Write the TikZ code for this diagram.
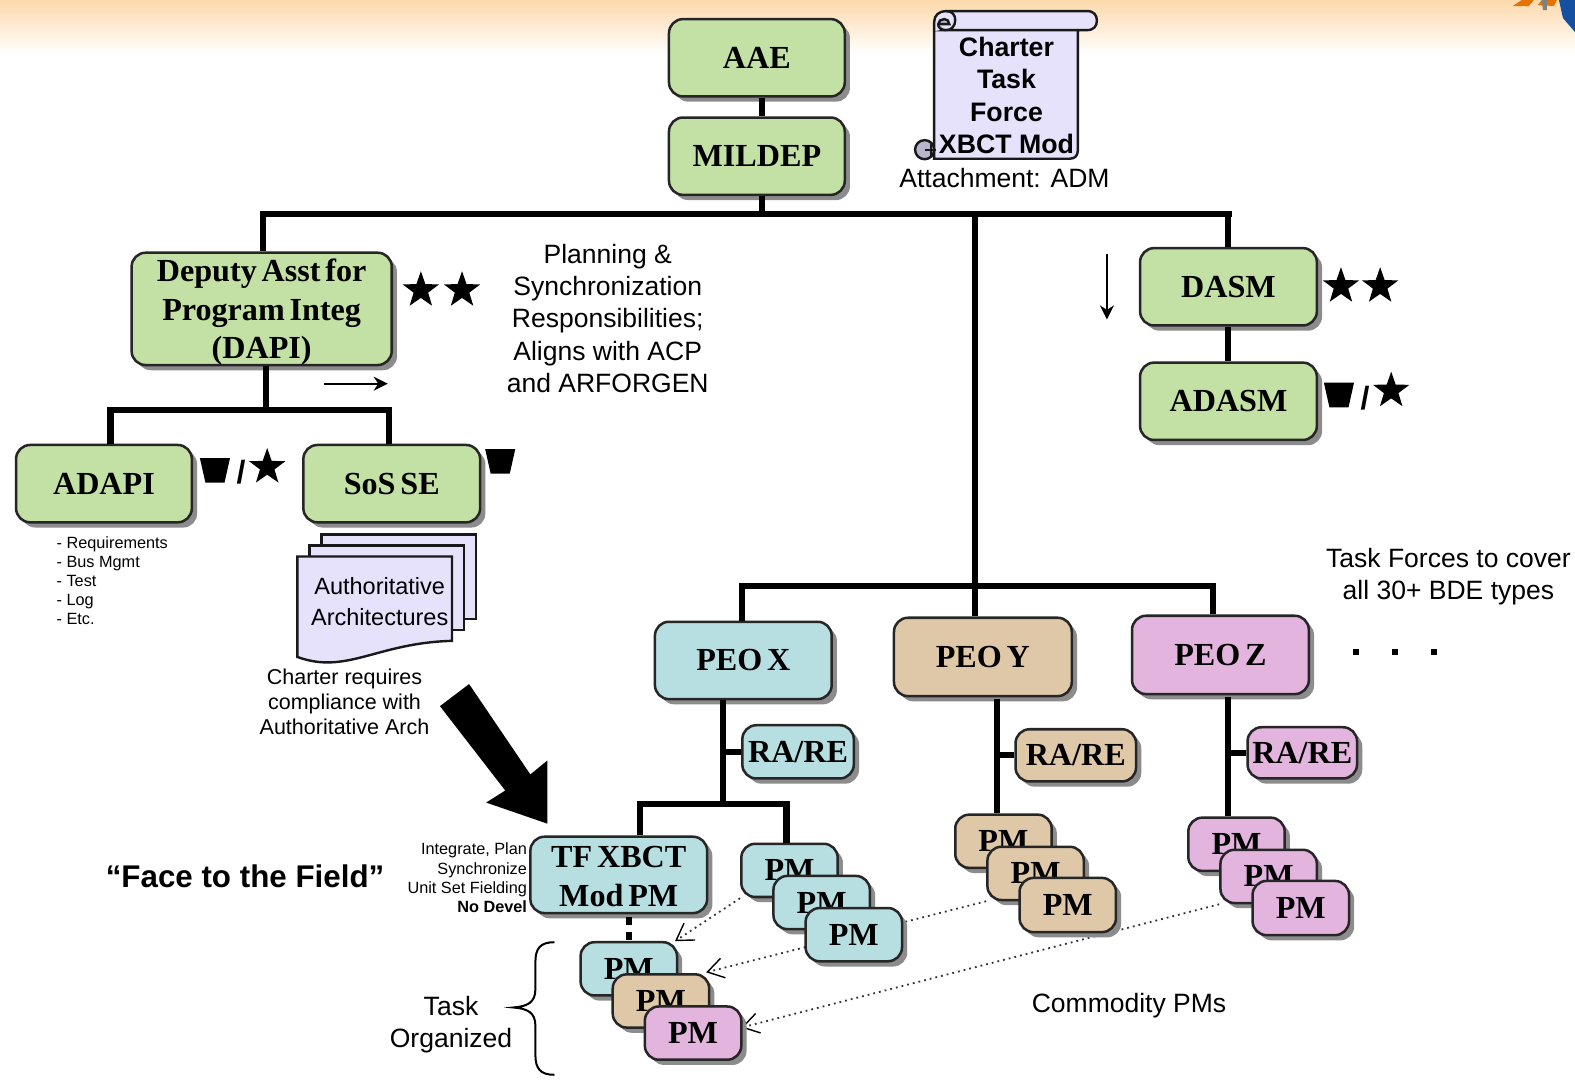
\documentclass[tikz,border=0pt]{standalone}
\usepackage{fontspec}
\setmainfont[WordSpace=0.6]{Liberation Serif}
\setsansfont{Liberation Sans}
\usetikzlibrary{shapes.geometric,shadows,arrows.meta,calc}
\definecolor{cgreen}{HTML}{C3E0A5}
\definecolor{cblue}{HTML}{B7DFE2}
\definecolor{ctan}{HTML}{DFC8A8}
\definecolor{cpink}{HTML}{E2B4DE}
\definecolor{clav}{HTML}{E6E2FB}
\definecolor{ccurl}{HTML}{B9B5CC}
\definecolor{clogo}{HTML}{1550A0}
\definecolor{ctop}{HTML}{FDD9AC}
\pgfdeclarelayer{bg}
\pgfsetlayers{bg,main}
\tikzset{
  x=0.5pt,y=-0.5pt,
  orgbox/.style={draw=black!85,line width=1.25pt,rounded corners=7pt,inner sep=0pt,align=center,
    font=\fontsize{16}{19}\selectfont\bfseries,
    drop shadow={shadow xshift=2.6pt,shadow yshift=-2.6pt,fill=black!45,opacity=1}},
  tree/.style={line width=3pt,black},
  thinarrow/.style={line width=1pt,-{Stealth[length=7pt,width=7pt]}},
  dotarrow/.style={line width=.9pt,black!80,dotted,-{Straight Barb[length=8pt,width=10pt,black,line width=.7pt,sep=0pt]}},
  lab/.style={inner sep=0pt,align=center,font=\fontsize{13.2}{16}\selectfont\sffamily},
  smallist/.style={inner sep=0pt,align=left,anchor=north west,font=\fontsize{8.1}{9.5}\selectfont\sffamily},
  smallright/.style={inner sep=0pt,align=right,anchor=north east,font=\fontsize{8.1}{9.5}\selectfont\sffamily},
  starmark/.style={star,star points=5,star point ratio=2.5,fill=black,inner sep=0pt,minimum size=19pt},
  slashmark/.style={inner sep=0pt,font=\fontsize{16}{18}\selectfont\sffamily\bfseries},
  sheet/.style={draw=black!90,line width=1.2pt,fill=clav},
}
\newcommand{\boxn}[7]{%
  \pgfmathsetmacro{\bxcx}{(#3+#5)/2}%
  \pgfmathsetmacro{\bxcy}{(#4+#6)/2}%
  \pgfmathsetmacro{\bxw}{(#5-#3)*0.5}%
  \pgfmathsetmacro{\bxh}{(#6-#4)*0.5}%
  \node[orgbox,fill=#2,minimum width=\bxw pt,minimum height=\bxh pt] (#1) at (\bxcx,\bxcy) {#7};%
}
\newcommand{\wedgemark}[2]{%
  \fill[black,shift={(#1,#2)}] (-15,-12) -- (15,-12) -- (9.5,12.5) -- (-9.5,12.5) -- cycle;%
}
\begin{document}
\begin{tikzpicture}
\useasboundingbox (0,0) rectangle (1568,1076);
% background band
\begin{pgfonlayer}{bg}
\fill[white] (0,0) rectangle (1568,1076);
\shade[top color=ctop,bottom color=white,shading angle=0] (0,0) rectangle (1568,54);
\end{pgfonlayer}
% logo fragment
\fill[orange!90!black] (1506,6) -- (1515,0) -- (1527,0) -- (1522,6) -- cycle;
\fill[orange!90!black] (1531,5) -- (1535,0) -- (1550,0) -- (1547,6) -- cycle;
\fill[black!50] (1535,0) -- (1540,0) -- (1540,10) -- (1536,10) -- cycle;
\fill[clogo] (1552,0) -- (1568,0) -- (1568,32) -- (1556,18) -- cycle;
% big arrow
\fill[black] (438,703) -- (467,681) -- (528,771) -- (545,757) -- (545,820) -- (484,799) -- (503,787) -- cycle;
% boxes: top
\boxn{aae}{cgreen}{666}{19}{841}{96}{AAE}
\boxn{mildep}{cgreen}{666}{117}{841}{194}{MILDEP}
\boxn{dapi}{cgreen}{131}{252}{390}{363}{\rule{0pt}{14.5pt}Deputy Asst for\\Program Integ\\(DAPI)}
\boxn{dasm}{cgreen}{1135}{247}{1311}{324}{DASM}
\boxn{adasm}{cgreen}{1135}{361}{1311}{438}{ADASM}
\boxn{adapi}{cgreen}{16}{443}{191}{520}{ADAPI}
\boxn{sos}{cgreen}{302}{443}{478}{520}{SoS SE}
\boxn{peox}{cblue}{652}{619}{828}{696}{PEO X}
\boxn{peoy}{ctan}{890}{615}{1067}{693}{PEO Y}
\boxn{peoz}{cpink}{1127}{613}{1303}{691}{PEO Z}
\boxn{rax}{cblue}{739}{722}{850}{775}{RA/RE}
\boxn{ray}{ctan}{1011}{726}{1131}{778}{RA/RE}
\boxn{raz}{cpink}{1242}{724}{1351}{775}{RA/RE}
\boxn{tf}{cblue}{528}{833}{704}{909}{\rule{0pt}{12.5pt}TF XBCT\\[.3pt]Mod PM}
\boxn{pmxa}{cblue}{738}{840}{834}{893}{PM}
\boxn{pmxb}{cblue}{770}{872}{866}{925}{PM}
\boxn{pmxc}{cblue}{802}{904}{898}{957}{PM}
\boxn{pmya}{ctan}{951}{811}{1047}{864}{PM}
\boxn{pmyb}{ctan}{983}{843}{1079}{896}{PM}
\boxn{pmyc}{ctan}{1015}{874}{1111}{928}{PM}
\boxn{pmza}{cpink}{1183}{814}{1279}{867}{PM}
\boxn{pmzb}{cpink}{1215}{846}{1311}{899}{PM}
\boxn{pmzc}{cpink}{1247}{877}{1343}{931}{PM}
\boxn{pmta}{cblue}{578}{938}{674}{991}{PM}
\boxn{pmtb}{ctan}{610}{970}{706}{1023}{PM}
\boxn{pmtc}{cpink}{642}{1002}{738}{1055}{PM}
% connectors
\coordinate (trunkL) at (262,213);
\coordinate (trunkM) at (759,213);
\coordinate (trunkC) at (971,213);
\coordinate (trunkR) at (1224,213);
\coordinate (peobus) at (971,583);
\coordinate (busXtop) at (739,583);
\coordinate (busZtop) at (1208,583);
\coordinate (dapibus) at (265,408);
\coordinate (busAd) at (110,408);
\coordinate (busSo) at (387,408);
\coordinate (xstem) at (720,800);
\coordinate (busTF) at (637,800);
\coordinate (busPM) at (783,800);
\coordinate (ystem) at (993,696);
\coordinate (zstem) at (1223,694);
\draw[tree] (aae.south -| trunkM) -- (mildep.north -| trunkM);
\draw[tree] (mildep.south -| trunkM) -- (trunkM);
\draw[tree,line cap=rect] (trunkL) -- (trunkR);
\draw[tree] (trunkL) -- (trunkL |- dapi.north);
\draw[tree] (trunkR -| dasm.north) -- (dasm.north);
\draw[tree] (dasm.south) -- (adasm.north);
\draw[tree] (trunkC) -- (trunkC |- peoy.north);
\draw[tree,line cap=rect] (busXtop) -- (busZtop);
\draw[tree] (busXtop) -- (busXtop |- peox.north);
\draw[tree] (busZtop) -- (busZtop |- peoz.north);
\draw[tree] (dapi.south -| dapibus) -- (dapibus);
\draw[tree,line cap=rect] (busAd) -- (busSo);
\draw[tree] (busAd) -- (busAd |- adapi.north);
\draw[tree] (busSo) -- (busSo |- sos.north);
\draw[tree] (xstem |- peox.south) -- (xstem);
\draw[tree,line cap=rect] (busTF) -- (busPM);
\draw[tree] (busTF) -- (busTF |- tf.north);
\draw[tree] (busPM) -- (busPM |- pmxa.north);
\draw[tree] (xstem |- rax.west) -- (rax.west);
\draw[tree] (ystem) -- (ystem |- pmya.north);
\draw[tree] (ystem |- ray.west) -- (ray.west);
\draw[tree] (zstem) -- (zstem |- pmza.north);
\draw[tree] (zstem |- raz.west) -- (raz.west);
\draw[line width=3pt,dash pattern=on 4pt off 3.5pt] (626,913) -- (626,938);
% dotted arrows ends
\coordinate (tipa) at (672,937);
\coordinate (tipb) at (703,968);
\coordinate (tipc) at (738,1023);
% thin arrows
\coordinate (arrdA) at (1102,253);
\coordinate (arrdB) at (1102,318);
\coordinate (arrrA) at (323,382);
\coordinate (arrrB) at (386,382);
\draw[thinarrow] (arrdA) -- (arrdB);
\draw[thinarrow] (arrrA) -- (arrrB);
% rank marks
\node[starmark] (s1) at (419,289) {};
\node[starmark] (s2) at (460,289) {};
\node[starmark] (s3) at (1335,285) {};
\node[starmark] (s4) at (1374,285) {};
\wedgemark{1333}{393}
\node[slashmark] (sl1) at (1359,396) {/};
\node[starmark] (s5) at (1385,389) {};
\wedgemark{214}{468}
\node[slashmark] (sl2) at (240,470) {/};
\node[starmark] (s6) at (266,465) {};
\wedgemark{498}{459}
% scroll
\draw[draw=black!90,line width=1.2pt,fill=clav] (930,158) -- (930,22) .. controls (930,15) and (935,11) .. (942,11) -- (1082,11) .. controls (1089,11) and (1092,15) .. (1092,20.5) .. controls (1092,26) and (1089,30) .. (1082,30) -- (1073,30) -- (1073,150) .. controls (1073,155) and (1070,158) .. (1065,158) -- cycle;
\draw[draw=black!90,line width=1.2pt,fill=ccurl] (942,30) .. controls (936,30) and (934,27) .. (934,24) .. controls (934,21) and (937,19) .. (940,19) .. controls (943,19) and (945,21) .. (945,24) -- (934,24);
\draw[draw=black!90,line width=1.2pt] (942,11) .. controls (948,11) and (951,15) .. (951,20) .. controls (951,26) and (947,30) .. (942,30) -- (1073,30);
\draw[draw=black!90,line width=1.2pt,fill=ccurl] (920.5,149) circle[radius=9.5];
\draw[draw=black!90,line width=1pt] (920.5,149) -- (932,149) (927,143) -- (927,155);
\node[lab,font=\fontsize{13.3}{16}\selectfont\sffamily\bfseries] (chart) at (1002,95) {Charter\\Task\\Force\\XBCT Mod};
\node[lab] (attach) at (1000,177) {Attachment: ADM};
% document stack
\draw[sheet] (320,532) rectangle (474,616);
\draw[sheet] (308,543) rectangle (462,627);
\draw[sheet] (296,554) -- (450,554) -- (450,638) .. controls (375,640) and (345,672) .. (296,654) -- cycle;
\node[lab,font=\fontsize{11.7}{15.4}\selectfont\sffamily] (auth) at (378,598.5) {Authoritative\\Architectures};
% texts
\node[lab] (plan) at (605,317) {Planning \&\\Synchronization\\Responsibilities;\\Aligns with ACP\\and ARFORGEN};
\node[smallist] (list) at (56,534) {- Requirements\\- Bus Mgmt\\- Test\\- Log\\- Etc.};
\node[lab,font=\fontsize{10.7}{12.5}\selectfont\sffamily] (charter) at (343,699) {Charter requires\\compliance with\\Authoritative Arch};
\node[lab] (forces) at (1442,574) {Task Forces to cover\\all 30+ BDE types};
\node[lab,font=\fontsize{15.6}{18}\selectfont\sffamily\bfseries] (face) at (244,872) {“Face to the Field”};
\node[smallright] (integ) at (525,839) {Integrate, Plan\\Synchronize\\Unit Set Fielding\\\textbf{No Devel}};
\node[lab] (taskorg) at (449,1020) {Task\\Organized};
\node[lab] (comm) at (1124,1001) {Commodity PMs};
\fill[black] (1347,646) rectangle (1353,652);
\fill[black] (1386,646) rectangle (1392,652);
\fill[black] (1425,646) rectangle (1431,652);
% brace
\draw[line width=1pt] (552,938) .. controls (538,938) and (533,944) .. (533,958) -- (533,985) .. controls (533,998) and (525,1002) .. (511,1003) .. controls (525,1004) and (533,1008) .. (533,1021) -- (533,1050) .. controls (533,1064) and (538,1070) .. (552,1070);
% dotted arrows
\begin{pgfonlayer}{bg}
\draw[dotarrow] (pmxa.south west) -- (tipa);
\draw[dotarrow] (pmyb.south west) -- (tipb);
\draw[dotarrow] (pmzb.south west) -- (tipc);
\end{pgfonlayer}
\end{tikzpicture}
\end{document}
